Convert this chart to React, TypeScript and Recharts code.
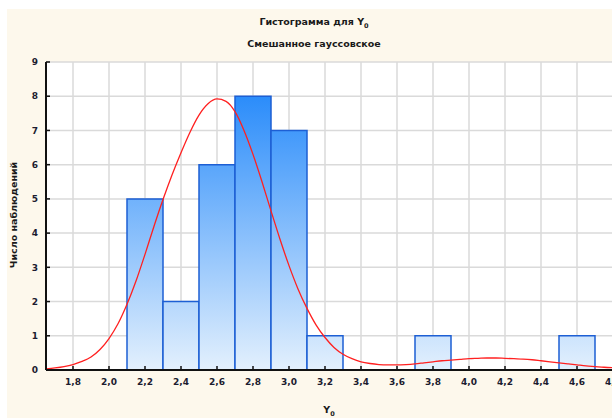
import { CartesianGrid, ComposedChart, Line, ReferenceArea, XAxis, YAxis } from "recharts"

// histogram bins (left edge of each 0.2-wide bin) and counts
const binStarts = [2.1, 2.3, 2.5, 2.7, 2.9, 3.1, 3.7, 4.5]
const binCounts = [5, 2, 6, 8, 7, 1, 1, 1]
const binWidth = 0.2

// fitted mixed gaussian curve
const curveX = [
  1.65, 1.7, 1.75, 1.8, 1.85, 1.9, 1.95, 2.0, 2.05, 2.1, 2.15, 2.2, 2.25, 2.3,
  2.35, 2.4, 2.45, 2.5, 2.55, 2.6, 2.65, 2.7, 2.75, 2.8, 2.85, 2.9, 2.95, 3.0,
  3.05, 3.1, 3.15, 3.2, 3.25, 3.3, 3.35, 3.4, 3.45, 3.5, 3.55, 3.6, 3.65, 3.7,
  3.75, 3.8, 3.85, 3.9, 3.95, 4.0, 4.05, 4.1, 4.15, 4.2, 4.25, 4.3, 4.35, 4.4,
  4.45, 4.5, 4.55, 4.6, 4.65, 4.7, 4.75, 4.8,
]
const curveY = [
  0.03, 0.06, 0.1, 0.16, 0.25, 0.38, 0.6, 0.92, 1.35, 1.92, 2.6, 3.38, 4.2, 4.98,
  5.7, 6.35, 6.95, 7.45, 7.78, 7.92, 7.85, 7.55, 7.0, 6.3, 5.5, 4.65, 3.82, 3.05,
  2.37, 1.8, 1.32, 0.95, 0.66, 0.46, 0.33, 0.24, 0.19, 0.16, 0.15, 0.15, 0.16, 0.18,
  0.21, 0.24, 0.27, 0.29, 0.31, 0.33, 0.34, 0.35, 0.35, 0.34, 0.33, 0.32, 0.3, 0.27,
  0.24, 0.21, 0.18, 0.15, 0.12, 0.1, 0.08, 0.07,
]

const xTicks = [1.8, 2.0, 2.2, 2.4, 2.6, 2.8, 3.0, 3.2, 3.4, 3.6, 3.8, 4.0, 4.2, 4.4, 4.6, 4.8]
const yTicks = [0, 1, 2, 3, 4, 5, 6, 7, 8, 9]

const curve = curveX.map((x, i) => ({ x, y: curveY[i] }))

const font = "'DejaVu Sans', Verdana, sans-serif"
const tickStyle = { fontSize: 9, fontWeight: "bold", fill: "#1c1c30", fontFamily: font }
const axisLine = { stroke: "#111", strokeWidth: 2 }
const tickLine = { stroke: "#111", strokeWidth: 1.5 }

const fmt = (v: number) => v.toFixed(1).replace(".", ",")

export default function App() {
  return (
    <div style={{ position: "relative", width: 612, height: 418, overflow: "hidden", background: "#fff" }}>
      <style>{"body{margin:0}"}</style>
      <div style={{ position: "absolute", left: 7, top: 9, right: 0, bottom: 0, background: "#fdf8ec" }} />
      <div style={{ position: "absolute", left: 0, top: 0 }}>
        <ComposedChart width={620} height={418} data={curve} margin={{ top: 62, right: 7, bottom: 0, left: 0 }}>
          <defs>
            <linearGradient id="barFill" gradientUnits="userSpaceOnUse" x1="0" y1="62" x2="0" y2="370">
              <stop offset="0" stopColor="#1480fa" />
              <stop offset="1" stopColor="#e3f0fd" />
            </linearGradient>
          </defs>
          <CartesianGrid fill="#fff" stroke="#dadada" strokeWidth={1.5} />
          <XAxis
            dataKey="x"
            type="number"
            domain={[1.65, 4.8]}
            ticks={xTicks}
            interval={0}
            allowDataOverflow
            height={48}
            tickSize={-4}
            tickMargin={13}
            tickFormatter={fmt}
            axisLine={axisLine}
            tickLine={tickLine}
            tick={tickStyle}
          />
          <XAxis
            xAxisId="top"
            orientation="top"
            type="number"
            domain={[1.65, 4.8]}
            ticks={xTicks}
            interval={0}
            allowDataOverflow
            height={0}
            tickSize={-4}
            tickFormatter={() => ""}
            axisLine={axisLine}
            tickLine={tickLine}
          />
          <YAxis
            domain={[0, 9]}
            ticks={yTicks}
            interval={0}
            width={46}
            tickSize={-4}
            tickMargin={12}
            axisLine={axisLine}
            tickLine={tickLine}
            tick={tickStyle}
          />
          <YAxis
            yAxisId="right"
            orientation="right"
            domain={[0, 9]}
            ticks={yTicks}
            interval={0}
            width={0}
            tickSize={-4}
            tickFormatter={() => ""}
            axisLine={axisLine}
            tickLine={tickLine}
          />
          {binStarts.map((s, i) => (
            <ReferenceArea
              key={s}
              x1={s}
              x2={s + binWidth}
              y1={0}
              y2={binCounts[i]}
              fill="url(#barFill)"
              fillOpacity={1}
              stroke="#1d5fd4"
              strokeWidth={1.5}
              ifOverflow="visible"
            />
          ))}
          <Line
            dataKey="y"
            type="monotone"
            stroke="#ff2020"
            strokeWidth={1.3}
            dot={false}
            activeDot={false}
            isAnimationActive={false}
          />
        </ComposedChart>
      </div>
      <div style={{ position: "absolute", left: 0, width: 628, top: 15, textAlign: "center", font: `bold 9.5px ${font}`, color: "#1a1a1a", lineHeight: "14px" }}>
        Гистограмма для Y<sub style={{ fontSize: 6.5 }}>0</sub>
      </div>
      <div style={{ position: "absolute", left: 0, width: 628, top: 37, textAlign: "center", font: `bold 9.5px ${font}`, color: "#1a1a1a", lineHeight: "14px" }}>
        Смешанное гауссовское
      </div>
      <div
        style={{
          position: "absolute",
          left: 13,
          top: 215,
          transform: "translate(-50%, -50%) rotate(-90deg)",
          whiteSpace: "nowrap",
          font: `bold 9.5px ${font}`,
          color: "#1a1a1a",
        }}
      >
        Число наблюдений
      </div>
      <div
        style={{
          position: "absolute",
          left: 329,
          top: 411,
          transform: "translate(-50%, -50%)",
          whiteSpace: "nowrap",
          font: `bold 9.5px ${font}`,
          color: "#1a1a1a",
        }}
      >
        Y<sub style={{ fontSize: 6.5 }}>0</sub>
      </div>
    </div>
  )
}
